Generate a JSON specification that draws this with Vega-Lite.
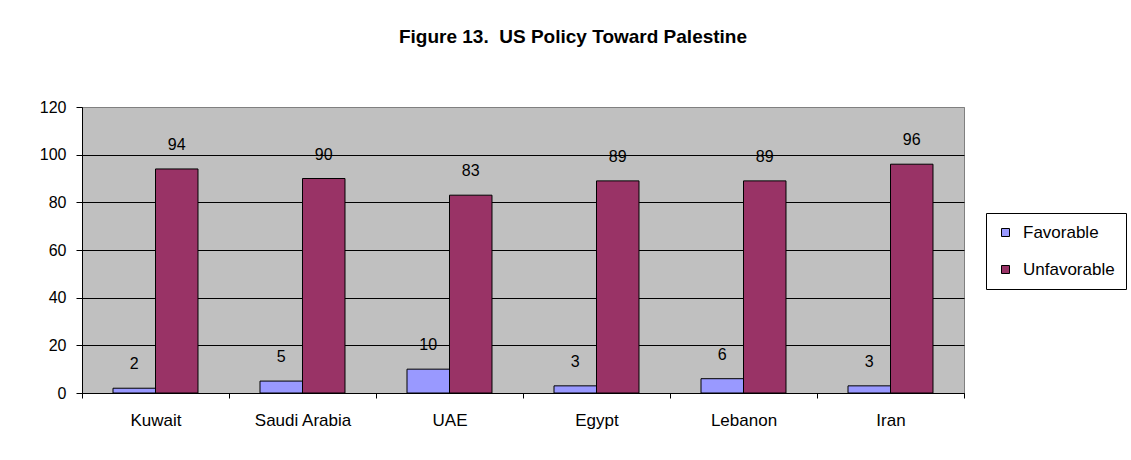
{
  "$schema": "https://vega.github.io/schema/vega-lite/v6.json",
  "autosize": {"type": "none"},
  "width": 882,
  "height": 286,
  "padding": {"left": 82, "top": 107, "right": 167, "bottom": 67},
  "background": "white",
  "title": {
    "text": "Figure 13. \u00a0US Policy Toward Palestine",
    "font": "Liberation Sans",
    "fontSize": 19,
    "fontWeight": "bold",
    "color": "black",
    "anchor": "middle",
    "frame": "group",
    "dx": 50,
    "offset": 52
  },
  "data": {
    "values": [
      {"country": "Kuwait", "opinion": "Favorable", "value": 2},
      {"country": "Kuwait", "opinion": "Unfavorable", "value": 94},
      {"country": "Saudi Arabia", "opinion": "Favorable", "value": 5},
      {"country": "Saudi Arabia", "opinion": "Unfavorable", "value": 90},
      {"country": "UAE", "opinion": "Favorable", "value": 10},
      {"country": "UAE", "opinion": "Unfavorable", "value": 83},
      {"country": "Egypt", "opinion": "Favorable", "value": 3},
      {"country": "Egypt", "opinion": "Unfavorable", "value": 89},
      {"country": "Lebanon", "opinion": "Favorable", "value": 6},
      {"country": "Lebanon", "opinion": "Unfavorable", "value": 89},
      {"country": "Iran", "opinion": "Favorable", "value": 3},
      {"country": "Iran", "opinion": "Unfavorable", "value": 96}
    ]
  },
  "encoding": {
    "x": {
      "field": "country",
      "type": "nominal",
      "sort": null,
      "scale": {"paddingInner": 0, "paddingOuter": 0},
      "axis": {
        "title": null,
        "labelAngle": 0,
        "tickBand": "extent",
        "tickSize": 5,
        "tickColor": "black",
        "domainColor": "black",
        "grid": false,
        "labelFont": "Liberation Sans",
        "labelFontSize": 17,
        "labelColor": "black",
        "labelPadding": 14
      }
    },
    "xOffset": {
      "field": "opinion",
      "type": "nominal",
      "sort": ["Favorable", "Unfavorable"],
      "scale": {"paddingInner": 0, "paddingOuter": 0.73}
    },
    "y": {
      "field": "value",
      "type": "quantitative",
      "scale": {"domain": [0, 120]},
      "axis": {
        "title": null,
        "values": [0, 20, 40, 60, 80, 100, 120],
        "grid": true,
        "gridColor": {"condition": {"test": "datum.value == 120", "value": "#808080"}, "value": "black"},
        "gridOpacity": 1,
        "tickSize": 6,
        "tickColor": "black",
        "domainColor": "black",
        "labelFont": "Liberation Sans",
        "labelFontSize": 16,
        "labelColor": "black",
        "labelPadding": 10
      }
    }
  },
  "layer": [
    {
      "mark": {"type": "bar", "stroke": "black", "strokeWidth": 1, "opacity": 1},
      "encoding": {
        "color": {
          "field": "opinion",
          "type": "nominal",
          "scale": {"domain": ["Favorable", "Unfavorable"], "range": ["#9999FF", "#993366"]},
          "legend": {
            "orient": "none",
            "legendX": 904,
            "legendY": 106,
            "title": null,
            "strokeColor": "black",
            "fillColor": "white",
            "padding": 11,
            "symbolType": "square",
            "symbolSize": 64,
            "symbolStrokeColor": "black",
            "symbolStrokeWidth": 1,
            "symbolOpacity": 1,
            "labelFont": "Liberation Sans",
            "labelFontSize": 17,
            "labelColor": "black",
            "labelOffset": 9,
            "rowPadding": 19
          }
        }
      }
    },
    {
      "mark": {"type": "text", "baseline": "alphabetic", "dy": -19, "font": "Liberation Sans", "fontSize": 16, "color": "black"},
      "encoding": {"text": {"field": "value", "type": "quantitative"}}
    }
  ],
  "config": {
    "view": {"fill": "#C0C0C0", "stroke": "#808080", "strokeWidth": 1}
  }
}
